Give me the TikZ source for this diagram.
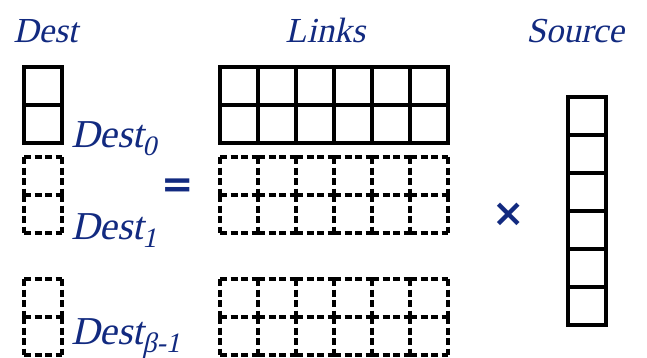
\documentclass[tikz,border=0pt]{standalone}
\usepackage{fontspec}
\setmainfont{Liberation Serif}
\newfontfamily\labelfont{Liberation Serif}
\newfontfamily\symfont{DejaVu Sans}
\usetikzlibrary{positioning}
\definecolor{labelblue}{RGB}{18,42,128}

\newcommand{\subtxt}[1]{\raisebox{-4pt}{\fontsize{16}{16}\selectfont #1}}

\begin{document}
\begin{tikzpicture}[x=0.02cm, y=-0.02cm,
  head/.style={font=\labelfont\fontsize{20}{20}\selectfont, text=labelblue,
               anchor=base west, inner sep=0, transform shape},
  part/.style={font=\labelfont\fontsize{22.5}{22.5}\selectfont, text=labelblue,
               anchor=base west, inner sep=0, transform shape},
  slanted/.style={shift={#1}, xslant=0.22},
  opsym/.style={font=\symfont\bfseries\fontsize{22}{22}\selectfont, text=labelblue, inner sep=0},
  solidcell/.style={draw=black, line width=1.8pt},
  dashcell/.style={draw=black, line width=1.8pt, dash pattern=on 4pt off 2pt}
]
\useasboundingbox (0,0) rectangle (647,358);

% --- Headings ---
\begin{scope}[slanted={(13,43)}]  \node[head] (desthead)   at (0,0) {Dest};   \end{scope}
\begin{scope}[slanted={(285,43)}] \node[head] (linkshead)  at (0,0) {Links};  \end{scope}
\begin{scope}[slanted={(526,43)}] \node[head] (sourcehead) at (0,0) {Source}; \end{scope}

% --- Dest blocks ---
\foreach \r in {0,1}
  \draw[solidcell] (24,{67+38*\r}) rectangle ++(38,38);
\foreach \top in {157,279} {
  \foreach \j in {0,1,2}
    \draw[dashcell] (24,{\top+38*\j}) -- ++(38,0);
  \foreach \i in {0,1}
    \foreach \r in {0,1}
      \draw[dashcell] ({24+38*\i},{\top+38*\r}) -- ++(0,38);
}

% --- Links blocks ---
\foreach \c in {0,...,5}
  \foreach \r in {0,1}
    \draw[solidcell] ({220+38*\c},{67+38*\r}) rectangle ++(38,38);
\foreach \top in {157,279} {
  \foreach \c in {0,...,5} {
    \foreach \j in {0,1,2}
      \draw[dashcell] ({220+38*\c},{\top+38*\j}) -- ++(38,0);
  }
  \foreach \i in {0,...,6}
    \foreach \r in {0,1}
      \draw[dashcell] ({220+38*\i},{\top+38*\r}) -- ++(0,38);
}

% --- Source vector ---
\foreach \r in {0,...,5}
  \draw[solidcell] (568,{97+38*\r}) rectangle ++(38,38);

% --- Block labels ---
\begin{scope}[slanted={(71,148)}] \node[part] (dest0) at (0,0) {Dest\subtxt{0}};   \end{scope}
\begin{scope}[slanted={(71,240)}] \node[part] (dest1) at (0,0) {Dest\subtxt{1}};   \end{scope}
\begin{scope}[slanted={(71,345)}] \node[part] (destb) at (0,0) {Dest\subtxt{β-1}}; \end{scope}

% --- Operators ---
\node[opsym] (eqsign)  at (178,188) {=};
\node[opsym] (timessg) at (509,215) {×};

\end{tikzpicture}
\end{document}
